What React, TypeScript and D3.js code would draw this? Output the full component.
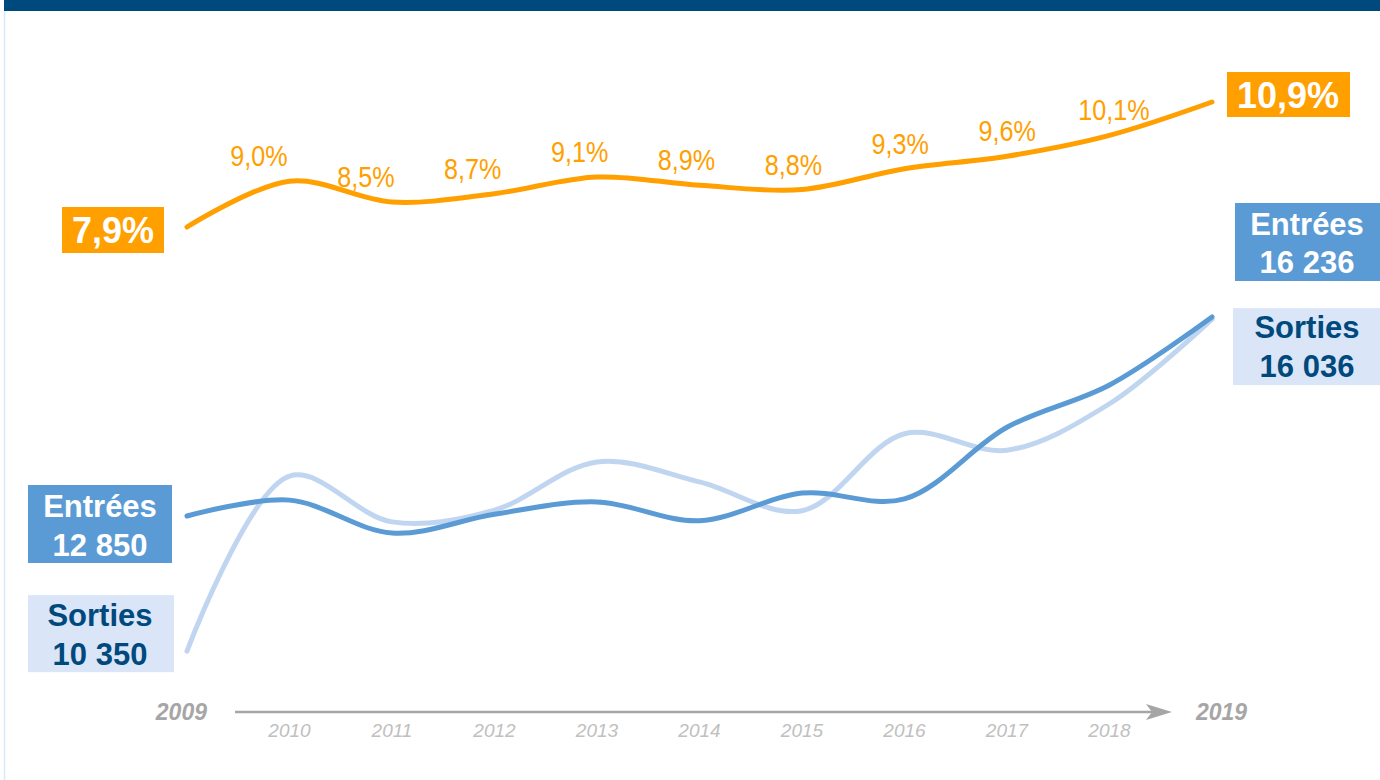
import * as d3 from 'd3';

// années
const years = [2009, 2010, 2011, 2012, 2013, 2014, 2015, 2016, 2017, 2018, 2019];
// taux (%)
const rate = [7.9, 9.0, 8.5, 8.7, 9.1, 8.9, 8.8, 9.3, 9.6, 10.1, 10.9];
const rateLabels = ['7,9%', '9,0%', '8,5%', '8,7%', '9,1%', '8,9%', '8,8%', '9,3%', '9,6%', '10,1%', '10,9%'];
// entrées / sorties
const entrees = [12850, 13120, 12560, 12880, 13090, 12770, 13240, 13140, 14360, 15080, 16236];
const sorties = [10550, 13530, 12750, 12950, 13770, 13430, 12940, 14250, 13970, 14760, 16200];
const entreesEnds = ['12 850', '16 236'];
const sortiesEnds = ['10 350', '16 036'];

const W = 1380;
const H = 780;

const ORANGE = '#ff9f00';
const BLUE = '#5b9bd5';
const LIGHT = '#c0d5f0';
const LIGHT_BOX = '#dae5f8';
const NAVY = '#00497d';
const GRAY = '#a6a6a6';
const GRAY_LIGHT = '#c0c0c0';

const FONT = "'Liberation Sans', Arial, sans-serif";

export default function App() {
  const x = d3.scaleLinear().domain([2009, 2019]).range([187, 1212]);
  const yRate = d3.scaleLinear().domain([7.9, 10.9]).range([227, 102]);
  const yCount = d3.scaleLinear().domain([12850, 16236]).range([516, 317]);
  // labels of the rate line sit on a slightly wider spacing than the points
  const xLab = d3.scaleLinear().domain([2010, 2018]).range([259, 1114]);

  const curve = d3.curveCatmullRom.alpha(0.5);
  const rateLine = d3.line<number>().x((_, i) => x(years[i])).y(d => yRate(d)).curve(curve);
  const countLine = d3.line<number>().x((_, i) => x(years[i])).y(d => yCount(d)).curve(curve);

  const x0 = x(years[0]);
  const x1 = x(years[years.length - 1]);
  const last = years.length - 1;

  const axisY = 712;
  const axisX0 = 235;
  const axisX1 = 1172;

  return (
    <div style={{ position: 'absolute', left: 0, top: 0 }}>
      <svg width={W} height={H} style={{ display: 'block', background: '#fff' }}>
        {/* cadre */}
        <rect x={4} y={0} width={W - 4} height={11} fill={NAVY} />
        <line x1={4.5} y1={11} x2={4.5} y2={H} stroke="#d7ebf8" strokeWidth={1.5} />

        {/* lignes */}
        <path d={countLine(sorties) || ''} fill="none" stroke={LIGHT} strokeWidth={5} strokeLinecap="round" />
        <path d={countLine(entrees) || ''} fill="none" stroke={BLUE} strokeWidth={5} strokeLinecap="round" />
        <path d={rateLine(rate) || ''} fill="none" stroke={ORANGE} strokeWidth={5} strokeLinecap="round" />

        {/* étiquettes du taux (police étroite simulée) */}
        {rate.slice(1, last).map((v, j) => (
          <text
            key={j}
            transform={`translate(${xLab(years[j + 1])},${yRate(v) - 15}) scale(0.84,1)`}
            textAnchor="middle"
            fill={ORANGE}
            fontSize={30}
            fontFamily={FONT}
          >
            {rateLabels[j + 1]}
          </text>
        ))}

        {/* taux début / fin */}
        <rect x={x0 - 125} y={yRate(rate[0]) - 20} width={102} height={46} fill={ORANGE} />
        <text x={x0 - 74} y={yRate(rate[0]) + 16} textAnchor="middle" fill="#fff" fontSize={36} fontWeight="bold" fontFamily={FONT}>
          {rateLabels[0]}
        </text>
        <rect x={x1 + 15} y={yRate(rate[last]) - 30} width={123} height={45} fill={ORANGE} />
        <text x={x1 + 76} y={yRate(rate[last]) + 6} textAnchor="middle" fill="#fff" fontSize={36} fontWeight="bold" fontFamily={FONT}>
          {rateLabels[last]}
        </text>

        {/* entrées / sorties gauche */}
        <rect x={x0 - 159} y={yCount(entrees[0]) - 31} width={144} height={78} fill={BLUE} />
        <text textAnchor="middle" fill="#fff" fontSize={31} fontWeight="bold" fontFamily={FONT}>
          <tspan x={x0 - 87} y={yCount(entrees[0]) + 1}>Entrées</tspan>
          <tspan x={x0 - 87} y={yCount(entrees[0]) + 40}>{entreesEnds[0]}</tspan>
        </text>
        <rect x={x0 - 159} y={yCount(sorties[0]) - 56} width={146} height={77} fill={LIGHT_BOX} />
        <text textAnchor="middle" fill={NAVY} fontSize={31} fontWeight="bold" fontFamily={FONT}>
          <tspan x={x0 - 87} y={yCount(sorties[0]) - 25}>Sorties</tspan>
          <tspan x={x0 - 87} y={yCount(sorties[0]) + 14}>{sortiesEnds[0]}</tspan>
        </text>

        {/* entrées / sorties droite */}
        <rect x={x1 + 23} y={yCount(entrees[last]) - 114} width={W - x1 - 23} height={78} fill={BLUE} />
        <text textAnchor="middle" fill="#fff" fontSize={31} fontWeight="bold" fontFamily={FONT}>
          <tspan x={x1 + 95} y={yCount(entrees[last]) - 82}>Entrées</tspan>
          <tspan x={x1 + 95} y={yCount(entrees[last]) - 44}>{entreesEnds[1]}</tspan>
        </text>
        <rect x={x1 + 21} y={yCount(sorties[last]) - 11} width={W - x1 - 21} height={77} fill={LIGHT_BOX} />
        <text textAnchor="middle" fill={NAVY} fontSize={31} fontWeight="bold" fontFamily={FONT}>
          <tspan x={x1 + 95} y={yCount(sorties[last]) + 19}>Sorties</tspan>
          <tspan x={x1 + 95} y={yCount(sorties[last]) + 58}>{sortiesEnds[1]}</tspan>
        </text>

        {/* axe du temps */}
        <line x1={axisX0} y1={axisY} x2={axisX1 - 8} y2={axisY} stroke={GRAY} strokeWidth={2.5} />
        <path d={`M${axisX1},${axisY} L${axisX1 - 26},${axisY - 8} L${axisX1 - 20},${axisY} L${axisX1 - 26},${axisY + 8} Z`} fill={GRAY} />
        <text x={x0 + 20} y={axisY + 8} textAnchor="end" fill={GRAY} fontSize={23} fontWeight="bold" fontStyle="italic" fontFamily={FONT}>
          {years[0]}
        </text>
        <text x={x1 - 16} y={axisY + 8} textAnchor="start" fill={GRAY} fontSize={23} fontWeight="bold" fontStyle="italic" fontFamily={FONT}>
          {years[last]}
        </text>
        {years.slice(1, last).map(yr => (
          <text key={yr} x={x(yr)} y={axisY + 25} textAnchor="middle" fill={GRAY_LIGHT} fontSize={19} fontStyle="italic" fontFamily={FONT}>
            {yr}
          </text>
        ))}
      </svg>
    </div>
  );
}
